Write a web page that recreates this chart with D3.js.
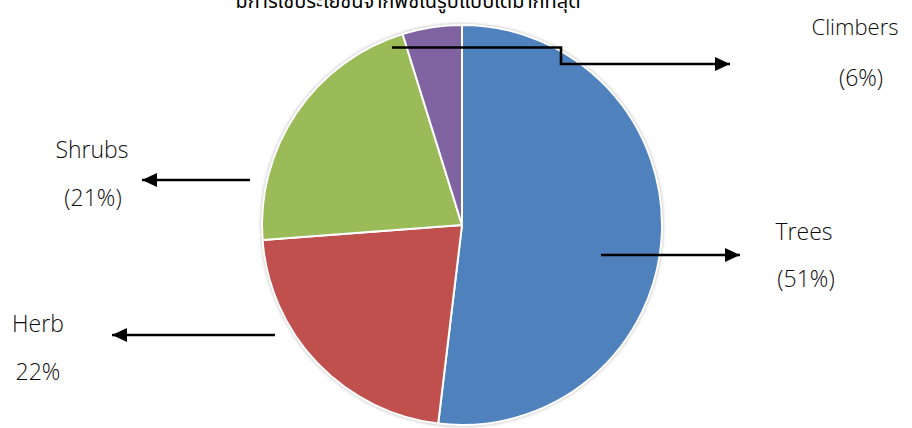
<!DOCTYPE html>
<html>
<head>
<meta charset="utf-8">
<script src="https://cdn.jsdelivr.net/npm/d3@7"></script>
<style>
  html, body { margin: 0; padding: 0; background: #fff; overflow: hidden; }
  svg { display: block; }
  text { font-family: "Open Sans", "Noto Sans", sans-serif; fill: #0d0d0d; font-weight: 300; }
</style>
</head>
<body>
<svg id="chart" width="912" height="428"></svg>
<script>
// ---- data ----
const categories = ["Trees", "Herb", "Shrubs", "Climbers"];
const values = [51.9, 21.9, 21.4, 4.8];
const percentLabels = ["(51%)", "22%", "(21%)", "(6%)"];
const colors = ["#4F81BD", "#C0504D", "#9BBB59", "#8064A2"];
const titleText = "มีการใช้ประโยชน์จากพืชในรูปแบบใดมากที่สุด";

const svg = d3.select("#chart");
const cx = 462, cy = 225, R = 200;

const defs = svg.append("defs");
defs.append("filter").attr("id", "shadow")
  .attr("x", "-10%").attr("y", "-10%").attr("width", "120%").attr("height", "120%")
  .append("feGaussianBlur").attr("stdDeviation", 1.6);
defs.append("marker")
  .attr("id", "arrow")
  .attr("markerUnits", "userSpaceOnUse")
  .attr("viewBox", "0 0 15 14")
  .attr("refX", 15).attr("refY", 7)
  .attr("markerWidth", 15).attr("markerHeight", 14)
  .attr("orient", "auto")
  .append("path").attr("d", "M0,0 L15,7 L0,14 Z").attr("fill", "#000");

// title (clipped at top in reference)
svg.append("text")
  .attr("x", 408).attr("y", 8)
  .attr("text-anchor", "middle")
  .style("font-family", "'Noto Sans Thai', 'Noto Sans', 'DejaVu Sans', sans-serif")
  .style("font-size", "20px")
  .style("font-weight", "400")
  .style("fill", "#000")
  .text(titleText);

// pie
const g = svg.append("g").attr("transform", `translate(${cx},${cy})`);
g.append("circle").attr("r", R + 1.5).attr("fill", "#c8c8c8").attr("filter", "url(#shadow)");

const pie = d3.pie().sort(null).value(d => d)(values);
const arc = d3.arc().innerRadius(0).outerRadius(R);
g.selectAll("path.slice")
  .data(pie)
  .join("path")
  .attr("class", "slice")
  .attr("d", arc)
  .attr("fill", (d, i) => colors[i])
  .attr("stroke", "#fff")
  .attr("stroke-width", 2)
  .attr("stroke-linejoin", "round");

// label positions (layout)
const labelLayout = [
  { name: [804, 240], pct: [806, 287] },   // Trees
  { name: [38, 332],  pct: [38, 380] },    // Herb
  { name: [92, 158],  pct: [93, 206] },    // Shrubs
  { name: [855, 35],  pct: [861, 86] }     // Climbers
];
const arrows = [
  [[601, 255], [740, 255]],
  [[275, 335], [112, 335]],
  [[250, 180], [142, 180]],
  [[392, 47.5], [561, 47.5], [561, 64], [730, 64]]
];

const line = d3.line();
svg.selectAll("path.arrow")
  .data(arrows)
  .join("path")
  .attr("class", "arrow")
  .attr("d", d => line(d))
  .attr("fill", "none")
  .attr("stroke", "#000")
  .attr("stroke-width", 2.6)
  .attr("marker-end", "url(#arrow)");

categories.forEach((c, i) => {
  svg.append("text")
    .attr("x", labelLayout[i].name[0]).attr("y", labelLayout[i].name[1])
    .attr("text-anchor", "middle")
    .style("font-size", i === 3 ? "22px" : "23px")
    .text(c);
  svg.append("text")
    .attr("x", labelLayout[i].pct[0]).attr("y", labelLayout[i].pct[1])
    .attr("text-anchor", "middle")
    .style("font-size", "23px")
    .text(percentLabels[i]);
});
</script>
</body>
</html>
